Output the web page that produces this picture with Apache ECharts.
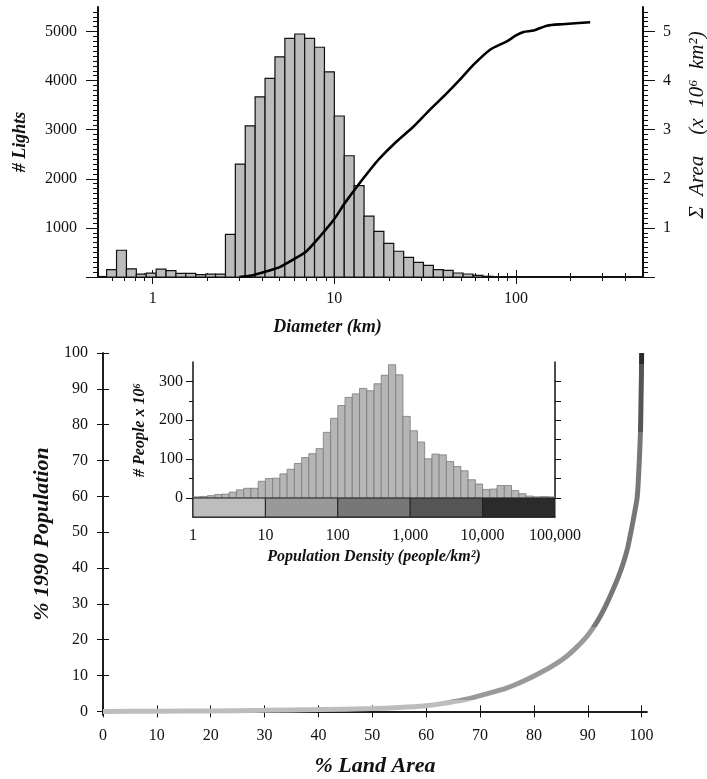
<!DOCTYPE html>
<html>
<head>
<meta charset="utf-8">
<script src="https://cdn.jsdelivr.net/npm/echarts@6/dist/echarts.min.js"></script>
<style>html,body{margin:0;padding:0;background:#fff;}#chart{width:707px;height:779px;}</style>
</head>
<body>
<div id="chart"></div>
<script>
// ---------- DATA ----------
// Top panel: histogram of light diameters (log bins)
const lightBinStartLog = -0.308;   // log10 of first bin lower edge
const lightBinStepLog = 0.0545;    // log10 width of each bin
const lightCounts = [10,150,545,165,60,80,160,130,75,75,50,60,60,870,2300,3080,3670,4045,4485,4860,4950,4860,4680,4180,3280,2470,1860,1240,930,685,525,400,298,237,149,135,81,61,34,14,7,7,3];
// cumulative area curve (diameter km, area x10^6 km^2)
const cumDiam = [3.0,3.5,4.2,5.0,5.9,7.0,8.3,9.9,11.4,13.3,15.7,17.8,22.0,27.2,33.0,41.5,50.0,58.2,72.0,89.0,100,110,125,148,180,256];
const cumArea = [0,0.03,0.11,0.2,0.35,0.52,0.82,1.16,1.5,1.84,2.18,2.42,2.76,3.06,3.38,3.74,4.05,4.32,4.63,4.8,4.92,4.99,5.02,5.12,5.15,5.19];
const diamTicks = [1,10,100];
const diamMinor = [0.6,0.7,0.8,0.9,2,3,4,5,6,7,8,9,20,30,40,50,60,70,80,90,200,300,400];
const lightsTicks = [0,1000,2000,3000,4000,5000];
const lightsLabels = [1000,2000,3000,4000,5000];
const areaTicks = [0,1,2,3,4,5];
const areaLabels = [1,2,3,4,5];

// Bottom panel: % population vs % land area
const landPct = [0,10,20,30,40,50,55,60,62.6,65,67.5,71,74.9,78,81.1,84,86.1,88,89.8,91,92.3,93.5,94.7,95.7,96.6,97.4,98.1,98.7,99.2,99.55,99.8,99.9,99.97,100];
const popPct  = [0,0.05,0.15,0.3,0.5,0.8,1.1,1.6,2.1,2.7,3.4,4.8,6.5,8.4,10.7,13.2,15.4,18,20.9,23.3,26.5,30,34,37.6,41.4,45.6,50.7,55.5,60,69.3,78.6,87.9,94,100];
const landTicks = [0,10,20,30,40,50,60,70,80,90,100];
const popTicks = [0,10,20,30,40,50,60,70,80,90,100];
// population-class thresholds on the curve (% population) and class colours
const classBreaks = [3.1,23.5,78,97];
const classColors = ['#bdbdbd','#999999','#777777','#555555','#2b2b2b'];

// Inset: people by population density (0.1-decade bins from 1 to 100,000)
const densBinStartLog = 0;
const densBinStepLog = 0.1;
const peopleCounts = [3,4,6,9,10,15,21,25,25,43,50,51,62,74,89,104,114,127,169,205,238,259,268,282,276,294,316,343,317,210,173,144,101,113,111,94,81,70,47,36,22,23,32,32,19,11,5,3,4,3];
const densityDecades = [1,10,100,1000,10000,100000];
const densTopTicks = [10,100,1000,10000];
const peopleTicks = [0,100,200,300];
const peopleMinor = [50,150,250];
const peopleRightTicks = [0,50,100,150,200,250,300];

// ---------- BUILD ----------
const lightData = lightCounts.map((c,i)=>[Math.pow(10,lightBinStartLog+i*lightBinStepLog), Math.pow(10,lightBinStartLog+(i+1)*lightBinStepLog), c]);
const densData = peopleCounts.map((c,i)=>[Math.pow(10,densBinStartLog+i*densBinStepLog), Math.pow(10,densBinStartLog+(i+1)*densBinStepLog), c]);
const barData = densityDecades.slice(0,-1).map((d,i)=>[d, densityDecades[i+1], 1]);
const lightsMinor = []; for (let v=100; v<5500; v+=100) if (v%1000) lightsMinor.push(v);
const areaMinor = []; for (let k=1; k<55; k++) if (k%10) areaMinor.push(k/10);

const FONT = 'Liberation Serif';
const BLACK = '#111';
const lab = (size) => ({fontFamily:FONT, fontSize:size, color:BLACK});
const title = (size, weight) => ({fontFamily:FONT, fontSize:size, fontStyle:'italic', fontWeight:weight||'bold', color:BLACK});
const plain = (v) => String(v);

function ax(o){
  const base = {
    axisLine:{show:o.line!==false, lineStyle:{color:BLACK, width:o.lw||1.5}},
    axisTick:{show:!!o.ticks, customValues:o.ticks, length:o.tl||5, inside:false, lineStyle:{color:BLACK, width:1}},
    axisLabel:o.labels ? Object.assign({show:true, customValues:o.labels, margin:o.margin||12, formatter:o.fmt||plain}, lab(o.fs||16)) : {show:false},
    splitLine:{show:false}, minorTick:{show:false}, minorSplitLine:{show:false}
  };
  return Object.assign({}, o.extra, base);
}

function histRender(fill, stroke, lw){
  return function(params, api){
    const p0 = api.coord([api.value(0), 0]);
    const p1 = api.coord([api.value(1), api.value(2)]);
    return {type:'rect', shape:{x:p0[0], y:p1[1], width:p1[0]-p0[0], height:p0[1]-p1[1]},
            style:{fill:fill, stroke:stroke, lineWidth:lw}};
  };
}

const chart = echarts.init(document.getElementById('chart'), null, {renderer:'canvas'});
const option = {
  backgroundColor:'#fff',
  animation:false,
  grid:[
    {left:98, top:7, width:545, height:270, containLabel:false, outerBoundsMode:'none'},
    {left:103, top:353, width:544, height:362, containLabel:false, outerBoundsMode:'none'},
    {left:193, top:362, width:362, height:136, containLabel:false, outerBoundsMode:'none'},
    {left:193, top:498, width:362, height:19, containLabel:false, outerBoundsMode:'none'}
  ],
  xAxis:[
    ax({ticks:diamTicks, labels:diamTicks, tl:7, lw:2, margin:14, extra:{type:'log', logBase:10, gridIndex:0, position:'bottom', min:0.5, max:500,
        name:'Diameter (km)', nameLocation:'middle', nameGap:41, nameTextStyle:Object.assign(title(18),{padding:[0,86,0,0]})}}),
    ax({ticks:diamMinor, line:false, tl:4, extra:{type:'log', logBase:10, gridIndex:0, position:'bottom', min:0.5, max:500}}),
    ax({ticks:diamTicks, tl:7, lw:2, extra:{type:'log', logBase:10, gridIndex:0, position:'top', min:0.5, max:500}}),
    ax({ticks:diamMinor, line:false, tl:4, extra:{type:'log', logBase:10, gridIndex:0, position:'top', min:0.5, max:500}}),
    ax({ticks:landTicks, labels:landTicks, tl:6, margin:13, extra:{type:'value', gridIndex:1, position:'bottom', min:0, max:101,
        name:'% Land Area', nameLocation:'middle', nameGap:40, nameTextStyle:title(22)}}),
    ax({ticks:landTicks, tl:6, extra:{type:'value', gridIndex:1, position:'top', min:0, max:101}}),
    ax({extra:{type:'log', logBase:10, gridIndex:2, position:'bottom', min:1, max:100000}}),
    ax({ticks:densTopTicks, tl:7, extra:{type:'log', logBase:10, gridIndex:2, position:'top', min:1, max:100000}}),
    ax({labels:densityDecades, margin:11, fmt:(v)=>Number(v).toLocaleString('en-US'), extra:{type:'log', logBase:10, gridIndex:3, position:'bottom', min:1, max:100000,
        name:'Population Density (people/km²)', nameLocation:'middle', nameGap:32, nameTextStyle:title(16)}})
  ],
  yAxis:[
    ax({ticks:lightsTicks, labels:lightsLabels, tl:12, lw:2, margin:21, extra:{type:'value', gridIndex:0, position:'left', min:0, max:5500,
        name:'# Lights', nameLocation:'middle', nameRotate:90, nameGap:69, nameTextStyle:title(18)}}),
    ax({ticks:lightsMinor, line:false, tl:5, extra:{type:'value', gridIndex:0, position:'left', min:0, max:5500}}),
    ax({ticks:areaTicks, labels:areaLabels, tl:12, lw:2, margin:20, extra:{type:'value', gridIndex:0, position:'right', min:0, max:5.5,
        name:'Σ  Area    (x  10⁶  km²)', nameLocation:'middle', nameRotate:90, nameGap:44, nameTextStyle:Object.assign(title(21,'normal'),{padding:[0,0,0,34]})}}),
    ax({ticks:areaMinor, line:false, tl:5, extra:{type:'value', gridIndex:0, position:'right', min:0, max:5.5}}),
    ax({ticks:popTicks, labels:popTicks, tl:6, margin:15, extra:{type:'value', gridIndex:1, position:'left', min:-1, max:100,
        name:'% 1990 Population', nameLocation:'middle', nameRotate:90, nameGap:50, nameTextStyle:title(22)}}),
    ax({ticks:popTicks, tl:6, extra:{type:'value', gridIndex:1, position:'right', min:-1, max:100}}),
    ax({ticks:peopleTicks, labels:peopleTicks, tl:7, margin:10, extra:{type:'value', gridIndex:2, position:'left', min:0, max:350,
        name:'# People x 10⁶', nameLocation:'middle', nameRotate:90, nameGap:43, nameTextStyle:title(16)}}),
    ax({ticks:peopleMinor, line:false, tl:4, extra:{type:'value', gridIndex:2, position:'left', min:0, max:350}}),
    ax({ticks:peopleRightTicks, tl:6, extra:{type:'value', gridIndex:2, position:'right', min:0, max:350}}),
    ax({extra:{type:'value', gridIndex:3, position:'left', min:0, max:1}})
  ],
  visualMap:[{
    type:'piecewise', show:false, seriesIndex:2, dimension:1,
    pieces:[
      {lt:classBreaks[0], color:classColors[0]},
      {gte:classBreaks[0], lt:classBreaks[1], color:classColors[1]},
      {gte:classBreaks[1], lt:classBreaks[2], color:classColors[2]},
      {gte:classBreaks[2], lt:classBreaks[3], color:classColors[3]},
      {gte:classBreaks[3], color:classColors[4]}
    ]
  }],
  series:[
    {type:'custom', xAxisIndex:0, yAxisIndex:0, renderItem:histRender('#bcbcbc','#111',1.2), encode:{x:[0,1], y:2}, data:lightData, clip:true, z:2},
    {type:'line', xAxisIndex:0, yAxisIndex:2, showSymbol:false, symbol:'none', smooth:0.25, lineStyle:{color:'#000', width:2.6}, data:cumDiam.map((d,i)=>[d,cumArea[i]]), z:3},
    {type:'line', xAxisIndex:4, yAxisIndex:4, showSymbol:false, symbol:'none', smooth:0.25, lineStyle:{width:5}, data:landPct.map((x,i)=>[x,popPct[i]]), z:3},
    {type:'custom', xAxisIndex:6, yAxisIndex:6, renderItem:histRender('#b6b6b6','#7a7a7a',0.8), encode:{x:[0,1], y:2}, data:densData, z:4},
    {type:'custom', xAxisIndex:8, yAxisIndex:9, encode:{x:[0,1], y:2}, data:barData, z:4,
      renderItem:function(params, api){
        const p0 = api.coord([api.value(0), 0]);
        const p1 = api.coord([api.value(1), api.value(2)]);
        return {type:'rect', shape:{x:p0[0], y:p1[1], width:p1[0]-p0[0], height:p0[1]-p1[1]},
                style:{fill:classColors[params.dataIndex], stroke:'#222', lineWidth:1}};
      }}
  ]
};
chart.setOption(option);
</script>
</body>
</html>
